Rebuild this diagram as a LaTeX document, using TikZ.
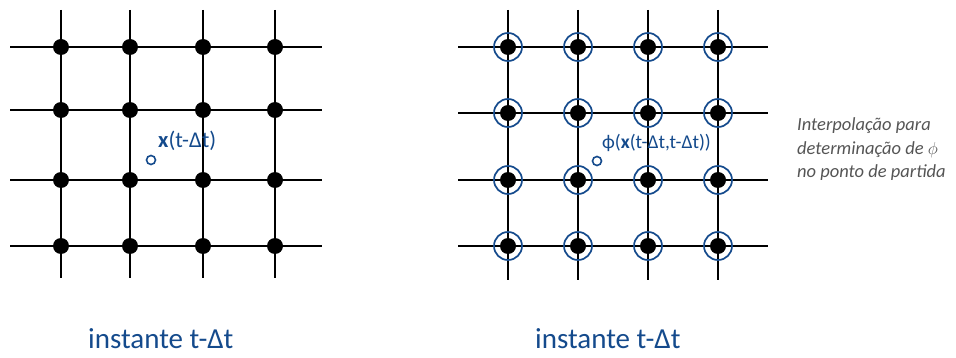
\documentclass[tikz,border=0pt]{standalone}
\usepackage{fontspec}
\setmainfont{Carlito}
\begin{document}
\definecolor{labelblue}{RGB}{20,74,140}
\definecolor{notegray}{RGB}{85,85,85}
\begin{tikzpicture}[x=1pt,y=-1pt,
  gridline/.style={line width=1.7pt,black},
  dot/.style={circle,fill=black,inner sep=0pt,minimum size=16pt},
  ring/.style={circle,draw=labelblue,line width=1.7pt,inner sep=0pt,minimum size=28pt},
  depart/.style={circle,draw=labelblue,line width=1.6pt,inner sep=0pt,minimum size=9pt},
  lbl/.style={text=labelblue,inner sep=0pt},
  caption/.style={text=labelblue,font=\fontsize{29}{32}\selectfont,inner sep=0pt},
  note/.style={text=notegray,font=\fontsize{18.5}{23.5}\selectfont\itshape,align=left,inner sep=0pt}]
\useasboundingbox (0,0) rectangle (956,358);

% left grid at time t - dt
\foreach \x in {61,130,203,275} \draw[gridline] (\x,10) -- (\x,278);
\foreach \y in {47,110,180,246} \draw[gridline] (10,\y) -- (322,\y);
\foreach \x [count=\i] in {61,130,203,275}
  \foreach \y [count=\j] in {47,110,180,246}
    \node[dot] (L\i\j) at (\x,\y) {};
\node[depart] (pL) at (151,160) {};
\node[lbl,font=\fontsize{22.5}{25}\selectfont,anchor=base west] (xL) at (158,148) {\textbf{x}(t-Δt)};

% right grid: known values at the nodes
\foreach \x in {508,578,648,718} \draw[gridline] (\x,10) -- (\x,280);
\foreach \y in {47,113,180,246} \draw[gridline] (458,\y) -- (768,\y);
\foreach \x [count=\i] in {508,578,648,718}
  \foreach \y [count=\j] in {47,113,180,246} {
    \node[dot] (R\i\j) at (\x,\y) {};
    \node[ring] (C\i\j) at (\x,\y) {};
  }
\node[depart] (pR) at (597,161) {};
\node[lbl,font=\fontsize{19.5}{22}\selectfont,anchor=base west] (xR) at (602,149) {ϕ(\textbf{x}(t-Δt,t-Δt))};

% note on the interpolation (anchored at the baseline of its last line)
\node[note,anchor=base west] (note) at (797,178)
  {Interpolação para\\determinação de $\phi$\\no ponto de partida};

% captions
\node[caption,anchor=base west] (capL) at (88,348) {instante t-Δt};
\node[caption,anchor=base west] (capR) at (535,348) {instante t-Δt};
\end{tikzpicture}
\end{document}
